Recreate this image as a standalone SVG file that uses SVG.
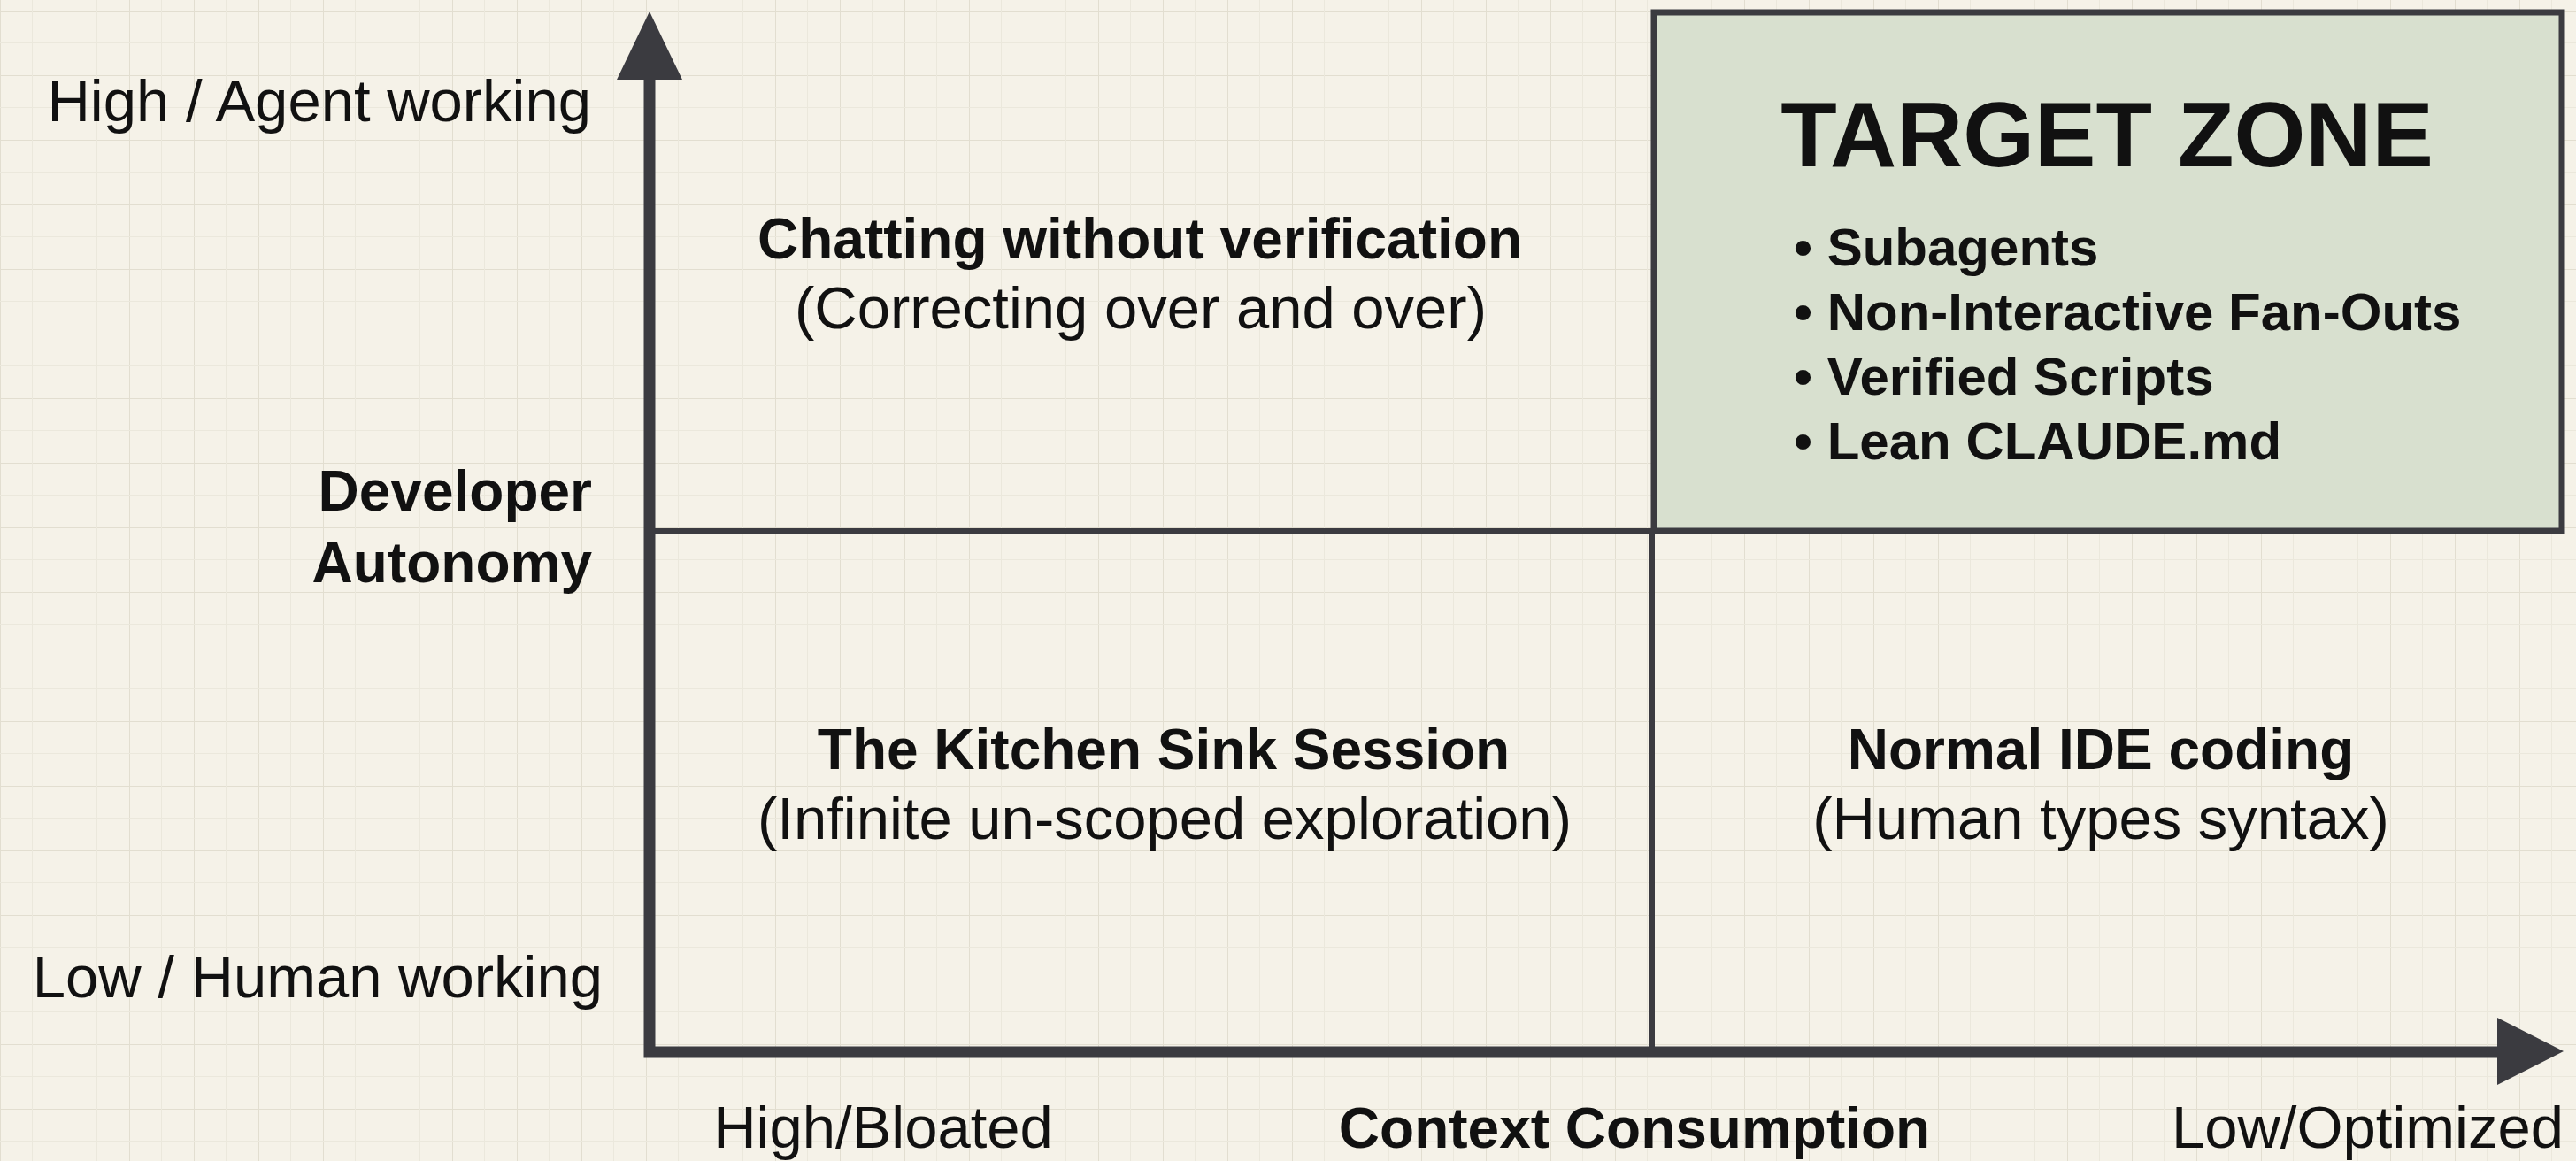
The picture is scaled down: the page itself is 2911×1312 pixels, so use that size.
<svg xmlns="http://www.w3.org/2000/svg" width="2911" height="1312" viewBox="0 0 2911 1312">
<style>
.reg{font-family:"Liberation Sans",Arial,sans-serif;font-size:67px;fill:#111;}
.bold{font-family:"Liberation Sans",Arial,sans-serif;font-size:64px;font-weight:bold;fill:#111;}
.mid{text-anchor:middle;}
.end{text-anchor:end;}
.axis{stroke:#3b3b40;stroke-width:13;fill:none;}
.div{stroke:#3b3b40;stroke-width:6;fill:none;}
.bullet{font-family:"Liberation Sans",Arial,sans-serif;font-size:60px;font-weight:bold;fill:#111;}
</style>
<defs>
<pattern id="grid" x="0" y="12" width="73" height="73" patternUnits="userSpaceOnUse">
<path d="M0 0H73M0 0V73" stroke="#e2ded0" stroke-width="2" fill="none"/>
<path d="M36.5 0V73M0 36.5H73" stroke="#ebe8dc" stroke-width="1" fill="none"/>
</pattern>
</defs>
<rect width="2911" height="1312" fill="#f5f2e8"/>
<rect width="2911" height="1312" fill="url(#grid)"/>

<g id="target-zone">
<rect x="1869" y="14" width="1026" height="586" fill="#d8e0cf" stroke="#3b3b40" stroke-width="7"/>
<text class="bold mid" x="2381" y="188" style="font-size:104px">TARGET ZONE</text>
<text class="bullet" x="2027" y="300">• Subagents</text>
<text class="bullet" x="2027" y="373">• Non-Interactive Fan-Outs</text>
<text class="bullet" x="2027" y="446">• Verified Scripts</text>
<text class="bullet" x="2027" y="519">• Lean CLAUDE.md</text>
</g>

<g id="connectors">
<path class="div" d="M734 600H1869"/>
<path class="div" d="M1867 600V1189"/>
<path class="axis" d="M734 88V1189H2826"/>
<polygon points="734,13 771,90 697,90" fill="#3b3b40"/>
<polygon points="2897,1188 2822,1150 2822,1226" fill="#3b3b40"/>
</g>

<g id="y-axis-labels">
<text class="reg end" x="668" y="137">High / Agent working</text>
<text class="bold end" x="669" y="577">Developer</text>
<text class="bold end" x="669" y="658">Autonomy</text>
<text class="reg end" x="681" y="1127">Low / Human working</text>
</g>

<g id="quadrant-chatting">
<text class="bold mid" x="1288" y="292">Chatting without verification</text>
<text class="reg mid" x="1289" y="371">(Correcting over and over)</text>
</g>

<g id="quadrant-kitchen-sink">
<text class="bold mid" x="1315" y="869">The Kitchen Sink Session</text>
<text class="reg mid" x="1316" y="948">(Infinite un-scoped exploration)</text>
</g>

<g id="quadrant-normal-ide">
<text class="bold mid" x="2374" y="869">Normal IDE coding</text>
<text class="reg mid" x="2374" y="948">(Human types syntax)</text>
</g>

<g id="x-axis-labels">
<text class="reg mid" x="998" y="1297">High/Bloated</text>
<text class="bold mid" x="1847" y="1297">Context Consumption</text>
<text class="reg end" x="2897" y="1297">Low/Optimized</text>
</g>
</svg>
